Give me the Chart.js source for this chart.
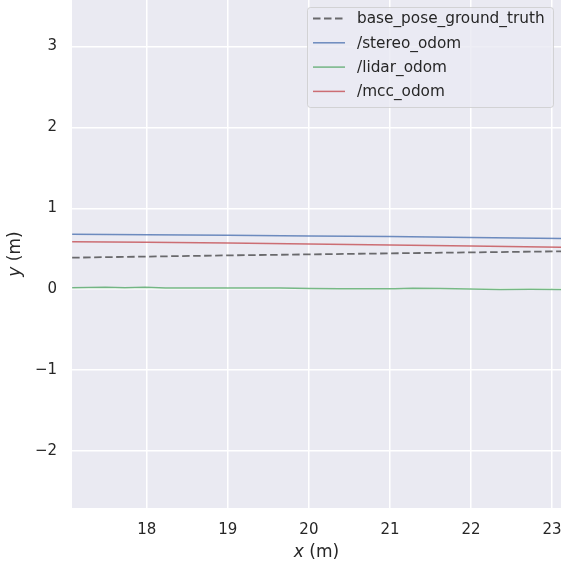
<!DOCTYPE html>
<html>
<head>
<meta charset="utf-8">
<script src="https://cdn.jsdelivr.net/npm/chart.js@4.4.1/dist/chart.umd.min.js"></script>
<style>
  html, body { margin: 0; padding: 0; background: #fff; }
  #wrap { width: 561px; height: 566px; }
</style>
</head>
<body>
<div id="wrap"><canvas id="chartPose"></canvas></div>
<script>
const INK = "#262626", AX_BG = "#EAEAF2", FONT = "'DejaVu Sans', sans-serif";

const X_TICKS = [18, 19, 20, 21, 22, 23];
const Y_TICKS = [-2, -1, 0, 1, 2, 3];

// straight-ish tracks sampled at these x positions
const X_COARSE = [17.08, 18, 19, 20, 21, 22, 23.11];
const GT_Y = [0.39, 0.403, 0.418, 0.43, 0.443, 0.455, 0.468];
const STEREO_Y = [0.678, 0.674, 0.667, 0.658, 0.65, 0.64, 0.628];
const MCC_Y = [0.586, 0.579, 0.57, 0.559, 0.547, 0.534, 0.519];

// lidar wiggles a little
const LIDAR_X = [17.08, 17.49, 17.73, 17.98, 18.23, 18.66, 19.27, 19.64, 20.01, 20.38, 20.75, 21.06, 21.28, 21.62, 21.99, 22.36, 22.73, 23.11];
const LIDAR_Y = [0.018, 0.024, 0.018, 0.025, 0.016, 0.014, 0.016, 0.015, 0.008, 0.004, 0.004, 0.006, 0.013, 0.007, 0.002, -0.004, -0.002, -0.005];

const pts = (xs, ys) => xs.map((x, i) => ({x, y: ys[i]}));

const bgPlugin = {
  id: "axBg",
  beforeDraw(chart) {
    const {ctx, chartArea: a} = chart;
    ctx.save();
    ctx.fillStyle = AX_BG;
    ctx.fillRect(a.left, a.top, a.right - a.left, a.bottom - a.top);
    ctx.restore();
  }
};

const decorPlugin = {
  id: "decor",
  afterDraw(chart) {
    const {ctx, chartArea: a} = chart;
    ctx.save();
    // axis titles with italic variable
    const title = (v) => {
      ctx.font = `italic 17px ${FONT}`;
      const w1 = ctx.measureText(v).width;
      ctx.font = `17px ${FONT}`;
      const w2 = ctx.measureText(" (m)").width;
      return [w1, w2];
    };
    ctx.fillStyle = INK;
    ctx.textBaseline = "middle";
    ctx.textAlign = "left";
    let [w1, w2] = title("x");
    let sx = (a.left + a.right) / 2 - (w1 + w2) / 2;
    ctx.font = `italic 17px ${FONT}`;
    ctx.fillText("x", sx, 553);
    ctx.font = `17px ${FONT}`;
    ctx.fillText(" (m)", sx + w1, 553);

    [w1, w2] = title("y");
    ctx.save();
    ctx.translate(16, (a.top + a.bottom) / 2);
    ctx.rotate(-Math.PI / 2);
    sx = -(w1 + w2) / 2;
    ctx.font = `italic 17px ${FONT}`;
    ctx.fillText("y", sx, 0);
    ctx.font = `17px ${FONT}`;
    ctx.fillText(" (m)", sx + w1, 0);
    ctx.restore();

    // legend box
    const bx = 307, by = 7, bw = 246, bh = 100;
    ctx.beginPath();
    ctx.roundRect(bx + 0.5, by + 0.5, bw, bh, 3);
    ctx.fillStyle = "rgba(234,234,242,0.8)";
    ctx.fill();
    ctx.strokeStyle = "rgba(204,204,204,0.8)";
    ctx.lineWidth = 1;
    ctx.stroke();
    ctx.font = `15.3px ${FONT}`;
    chart.data.datasets.forEach((ds, i) => {
      const y = 18.5 + i * 24.3;
      ctx.beginPath();
      ctx.strokeStyle = ds.borderColor;
      ctx.lineWidth = ds.borderWidth;
      ctx.setLineDash(ds.borderDash || []);
      ctx.moveTo(313, y);
      ctx.lineTo(345, y);
      ctx.stroke();
      ctx.setLineDash([]);
      ctx.fillStyle = INK;
      ctx.fillText(ds.label, 357, y + 1);
    });
    ctx.restore();
  }
};

const line = (label, data, color, dash, width) => ({
  label, data,
  borderColor: color,
  borderWidth: width || 1.5,
  borderDash: dash,
  pointRadius: 0,
  tension: 0,
  fill: false,
});

new Chart(document.getElementById("chartPose"), {
  type: "line",
  data: {
    datasets: [
      line("base_pose_ground_truth", pts(X_COARSE, GT_Y), "rgba(55,55,55,0.72)", [7.5, 3.5], 1.8),
      line("/stereo_odom", pts(X_COARSE, STEREO_Y), "rgba(76,114,176,0.8)"),
      line("/lidar_odom", pts(LIDAR_X, LIDAR_Y), "rgba(85,168,104,0.8)"),
      line("/mcc_odom", pts(X_COARSE, MCC_Y), "rgba(196,78,82,0.8)"),
    ]
  },
  options: {
    responsive: true,
    maintainAspectRatio: false,
    animation: false,
    layout: {padding: 0},
    plugins: {legend: {display: false}, tooltip: {enabled: false}},
    scales: {
      x: {
        type: "linear",
        min: 17.078, max: 23.11,
        afterBuildTicks: s => { s.ticks = X_TICKS.map(v => ({value: v})); },
        afterFit: s => { s.height = 58; s.paddingLeft = 0; s.paddingRight = 0; },
        grid: {color: "#fff", lineWidth: 1.5, drawTicks: false},
        border: {display: false},
        ticks: {color: INK, font: {family: FONT, size: 15}, padding: 13, maxRotation: 0},
      },
      y: {
        type: "linear",
        min: -2.705, max: 3.575,
        afterBuildTicks: s => { s.ticks = Y_TICKS.map(v => ({value: v})); },
        afterFit: s => { s.width = 72; s.paddingTop = 0; s.paddingBottom = 0; },
        grid: {color: "#fff", lineWidth: 1.5, drawTicks: false},
        border: {display: false},
        ticks: {
          color: INK, font: {family: FONT, size: 15}, padding: 15,
          callback: v => v < 0 ? "\u2212" + Math.abs(v) : String(v),
        },
      }
    }
  },
  plugins: [bgPlugin, decorPlugin]
});
</script>
</body>
</html>
